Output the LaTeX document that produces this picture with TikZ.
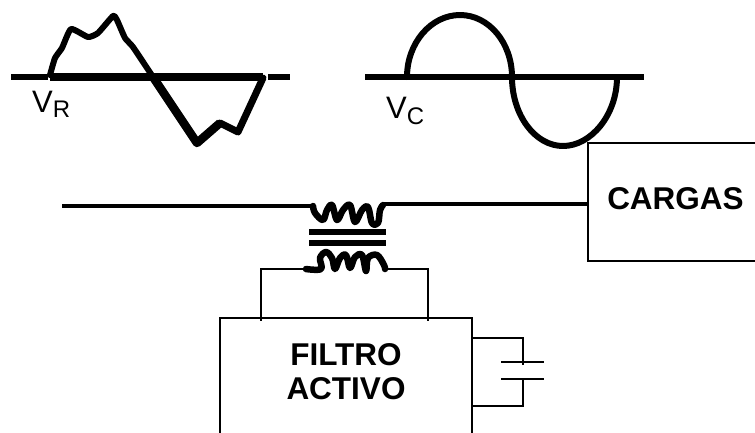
\documentclass[tikz,border=0pt]{standalone}
\usepackage{fontspec}
\setmainfont{Liberation Sans}
\usetikzlibrary{calc,positioning}

\begin{document}
\begin{tikzpicture}[x=1pt, y=-1pt,
    thinwire/.style={line width=2pt},
    mainwire/.style={line width=3.6pt},
    axisline/.style={line width=6pt},
    wave/.style={line width=6pt, line join=round, line cap=round},
    coil/.style={line width=6.5pt, line join=round, line cap=round},
    blocktext/.style={font=\fontsize{31.5}{34}\selectfont\bfseries, align=center, inner sep=0pt},
    volt/.style={font=\fontsize{31}{31}\selectfont, anchor=base west, inner sep=0pt}]

    \useasboundingbox (0,0) rectangle (755,432);

    % tension de red
    \draw[axisline] (11,77) -- (48,77);
    \draw[line width=7.5pt] (50,77) -- (263,77);
    \draw[axisline] (268,77) -- (290,77);
    \draw[wave] plot[smooth, tension=0.3] coordinates {(50,75) (55,58) (62,48) (71,29) (88,37) (98,33) (113,16) (117,20) (125,38) (133,47) (153,77)};
    \draw[line width=8.5pt, line join=round] (153,77) -- (197,143) -- (220,123);
    \draw[wave, line width=7pt] (220,123) -- (238,132) -- (263,78);
    \node[volt] (vr) at (32,112) {V\raisebox{-5pt}{\fontsize{24}{24}\selectfont R}};

    % tension en la carga
    \draw[axisline] (365,77) -- (644,77);
    \draw[wave] (407,77) .. controls (407,43) and (431,15) .. (460,15) .. controls (489,15) and (512,43) .. (512,77) .. controls (512,115) and (535,146) .. (563,146) .. controls (591,146) and (617,115) .. (617,77);
    \node[volt] (vc) at (386,118) {V\raisebox{-6pt}{\fontsize{24}{24}\selectfont C}};

    % bloques
    \node[draw, thinwire, minimum width=176pt, minimum height=118pt, inner sep=0pt] (cargas) at (676,202) {};
    \node[blocktext] (cargastxt) at (675.5,199) {CARGAS};
    \node[draw, thinwire, minimum width=252pt, minimum height=136pt, inner sep=0pt] (filtro) at (346,386) {};
    \node[blocktext] (filtrotxt) at (346,372) {FILTRO\\ACTIVO};

    % transformador
    \coordinate (linein) at (62,206);
    \coordinate (pria) at (313,206);
    \coordinate (prib) at (383,204);
    \draw[mainwire] (linein) -- (pria);
    \draw[mainwire] (prib) -- (prib -| cargas.west);
    \draw[coil] plot[smooth, tension=0.6] coordinates {(313,206) (315,213) (323,220) (327,210) (332,205) (337,220) (343,210) (350,205) (355,222) (362,210) (368,207) (372,223) (378,223) (380,210) (383,205)};
    \draw[axisline] (309,232) -- (386,232);
    \draw[axisline] (309,243) -- (386,243);
    \coordinate (seca) at (306,269);
    \coordinate (secb) at (385,269);
    \draw[coil] plot[smooth, tension=0.6] coordinates {(306,269) (321,269) (320,258) (326,252) (332,258) (335,269) (340,258) (346,255) (350,268) (355,257) (362,255) (366,271) (368,258) (377,255) (384,265) (385,269)};
    \coordinate (legl) at (261,269);
    \coordinate (legr) at (428,269);
    \draw[thinwire] (seca) -- (legl) -- (legl |- filtro.north) -- ++(0,4);
    \draw[thinwire] (secb) -- (legr) -- (legr |- filtro.north) -- ++(0,4);

    % condensador
    \coordinate (capa) at (523,338);
    \coordinate (capb) at (523,406);
    \coordinate (platea) at (523,362);
    \coordinate (plateb) at (523,379);
    \draw[thinwire] (capa -| filtro.east) -- (capa) -- (523,365);
    \draw[thinwire] (capb -| filtro.east) -- (capb) -- (plateb);
    \draw[thinwire] ($(platea)+(-22,0)$) -- ($(platea)+(21,0)$);
    \draw[thinwire] ($(plateb)+(-22,0)$) -- ($(plateb)+(21,0)$);

\end{tikzpicture}
\end{document}
